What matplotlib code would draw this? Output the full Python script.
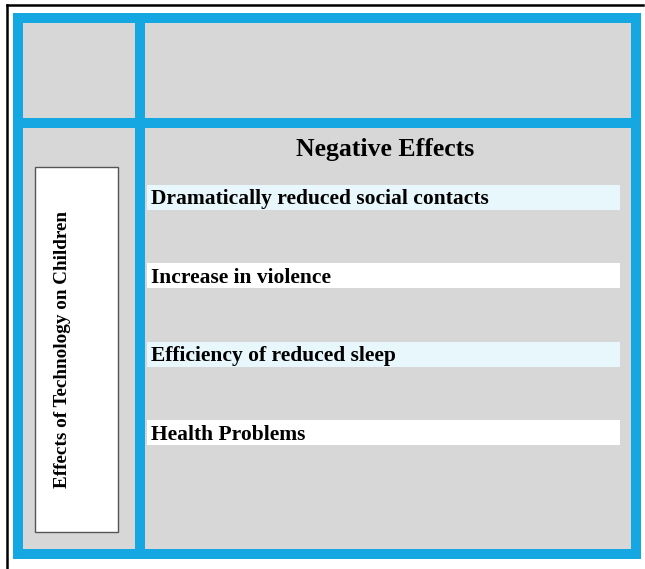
import matplotlib
matplotlib.use("Agg")
import matplotlib.pyplot as plt
from matplotlib.patches import Rectangle

# chart content
title = "Negative Effects"
side_label = "Effects of Technology on Children"
effects = ["Dramatically reduced social contacts",
           "Increase in violence",
           "Efficiency of reduced sleep",
           "Health Problems"]
row_colors = ["#e8f7fb", "#ffffff", "#e8f7fb", "#ffffff"]

BLUE = "#14a7e1"
GRAY = "#d7d7d7"
W, H = 645, 569

fig = plt.figure(figsize=(W / 100, H / 100), dpi=100)
ax = fig.add_axes([0, 0, 1, 1])
ax.set_xlim(0, W)
ax.set_ylim(H, 0)
ax.axis("off")

# black page border (left + top)
ax.plot([7, 7], [5, H], color="black", lw=1.8)
ax.plot([7, 643], [5, 5], color="black", lw=1.8)

# blue frame with gray cells
ax.add_patch(Rectangle((13, 13), 628, 546, facecolor=BLUE, edgecolor="none"))
cells = [(23, 23, 112, 95), (145, 23, 486, 95),
         (23, 128, 112, 421), (145, 128, 486, 421)]
for x, y, w, h in cells:
    ax.add_patch(Rectangle((x, y), w, h, facecolor=GRAY, edgecolor="none"))

# left label box
ax.add_patch(Rectangle((35, 167), 83, 365, facecolor="white",
                       edgecolor="#555555", lw=1))
ax.text(63, 349, side_label, rotation=90, ha="center", va="center",
        fontsize=13.8, fontweight="bold", family="Liberation Serif")

# title
ax.text(385, 149, title, ha="center", va="center", fontsize=18.5,
        fontweight="bold", family="Liberation Serif")

# effect rows
y0, step = 197, 78.5
ys = [y0 + i * step for i in range(len(effects))]
ax.barh(ys, 473, left=147, height=25, color=row_colors)
for y, label in zip(ys, effects):
    ax.text(151, y + 2, label, ha="left", va="center", fontsize=15.5,
            fontweight="bold", family="Liberation Serif")

fig.savefig("out.png", dpi=100)
